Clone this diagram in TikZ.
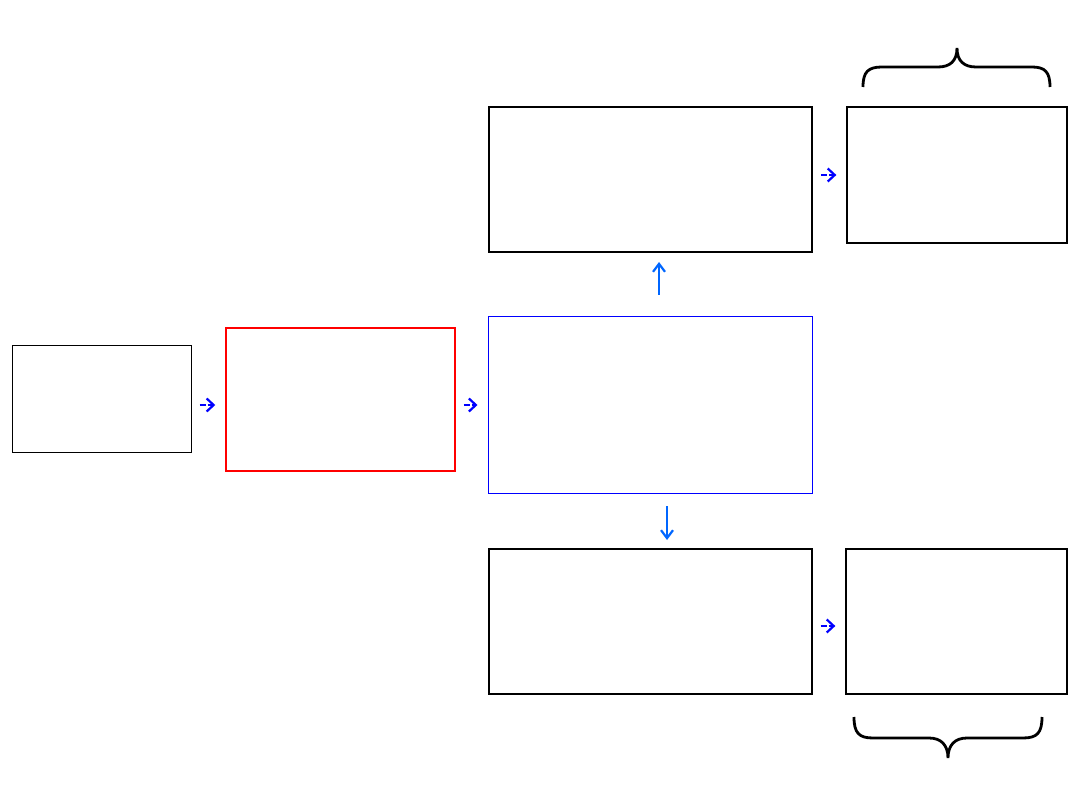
\documentclass[tikz,border=0pt]{standalone}
\usetikzlibrary{arrows.meta}
\definecolor{arrblue}{RGB}{0,0,255}
\definecolor{lightarr}{RGB}{0,102,255}
\begin{document}
\begin{tikzpicture}[x=1pt,y=-1pt,
  box/.style={draw,line width=1.3pt,inner sep=0pt},
  harr/.style={arrblue,line width=2pt,dash pattern=on 6pt off 2pt,shorten <=8pt,shorten >=10pt,-{Straight Barb[length=7pt,width=13pt,line width=2.2pt]}},
  varr/.style={lightarr,line width=2pt,-{Straight Barb[length=8pt,width=12pt,line width=2.2pt]}},
  bracestyle/.style={line width=2.8pt,line cap=butt}]
\useasboundingbox (0,0) rectangle (1080,810);
\node[box,line width=1pt,minimum width=179pt,minimum height=107pt] (in) at (101.5,399.5) {};
\node[box,draw=red,line width=1.5pt,minimum width=229pt,minimum height=143pt] (red) at (340.5,399.5) {};
\node[box,draw=blue,line width=1pt,minimum width=324pt,minimum height=176pt] (mid) at (650,405) {};
\node[box,line width=2pt,minimum width=323pt,minimum height=145pt] (top) at (650.5,179.5) {};
\node[box,minimum width=220pt,minimum height=136pt] (topr) at (957,175) {};
\node[box,minimum width=323pt,minimum height=145pt] (bot) at (650.5,621.5) {};
\node[box,minimum width=221pt,minimum height=145pt] (botr) at (956.5,621.5) {};
\draw[harr] (in.east |- mid) -- (red.west |- mid);
\draw[harr] (red.east |- mid) -- (mid.west);
\draw[harr] (top.east |- topr) -- (topr.west);
\draw[harr] ([yshift=-4.5pt]bot.east) -- ([yshift=-4.5pt]botr.west);
\coordinate (u1) at (659,295);
\coordinate (u2) at (659,262);
\draw[varr] (u1) -- (u2);
\coordinate (d1) at (667,506);
\coordinate (d2) at (667,540);
\draw[varr] (d1) -- (d2);
% top brace
\draw[bracestyle] (863,87) .. controls (863,72) and (868,67) .. (882,67)
  -- (938,67) .. controls (950,67) and (957,61) .. (957,48)
  .. controls (957,61) and (964,67) .. (976,67) -- (1032,67)
  .. controls (1045,67) and (1050,72) .. (1050,87);
% bottom brace
\draw[bracestyle] (854,717) .. controls (854,733) and (859,738) .. (873,738)
  -- (929,738) .. controls (941,738) and (948,745) .. (948,758)
  .. controls (948,745) and (955,738) .. (967,738) -- (1023,738)
  .. controls (1037,738) and (1042,733) .. (1042,717);
\end{tikzpicture}
\end{document}
